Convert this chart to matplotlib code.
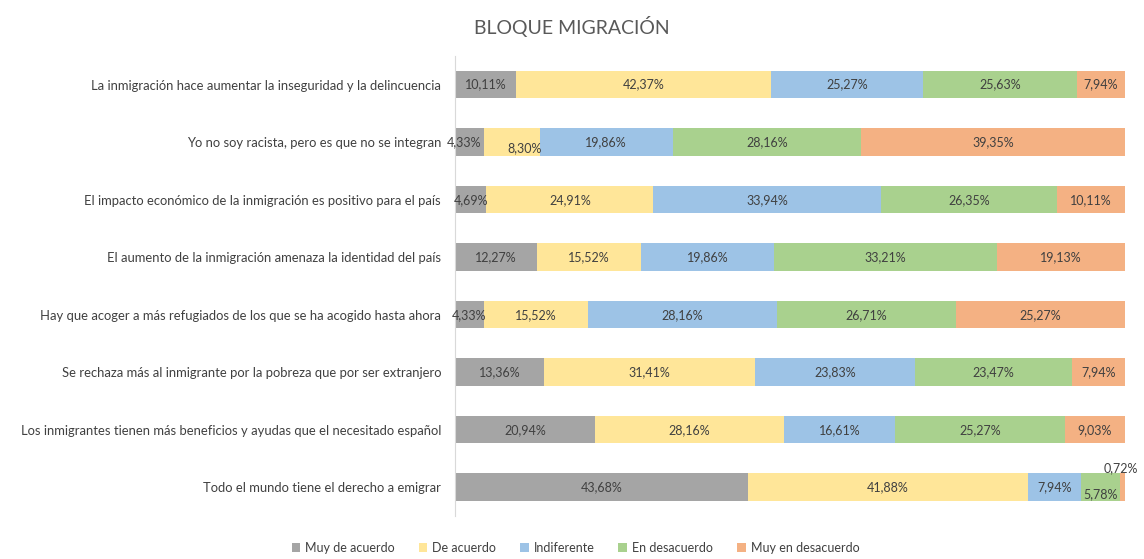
import numpy as np
import matplotlib
matplotlib.use('Agg')
import matplotlib.pyplot as plt
from matplotlib.patches import Patch

plt.rcParams['font.family'] = ['Lato', 'DejaVu Sans']

TITLE = 'BLOQUE MIGRACIÓN'

items = [
    'La inmigración hace aumentar la inseguridad y la delincuencia',
    'Yo no soy racista, pero es que no se integran',
    'El impacto económico de la inmigración es positivo para el país',
    'El aumento de la inmigración amenaza la identidad del país',
    'Hay que acoger a más refugiados de los que se ha acogido hasta ahora',
    'Se rechaza más al inmigrante por la pobreza que por ser extranjero',
    'Los inmigrantes tienen más beneficios y ayudas que el necesitado español',
    'Todo el mundo tiene el derecho a emigrar',
]

series = ['Muy de acuerdo', 'De acuerdo', 'Indiferente', 'En desacuerdo', 'Muy en desacuerdo']

muy_de_acuerdo = [10.11, 4.33, 4.69, 12.27, 4.33, 13.36, 20.94, 43.68]
de_acuerdo = [42.37, 8.30, 24.91, 15.52, 15.52, 31.41, 28.16, 41.88]
indiferente = [25.27, 19.86, 33.94, 19.86, 28.16, 23.83, 16.61, 7.94]
en_desacuerdo = [25.63, 28.16, 26.35, 33.21, 26.71, 23.47, 25.27, 5.78]
muy_en_desacuerdo = [7.94, 39.35, 10.11, 19.13, 25.27, 7.94, 9.03, 0.72]

colors = ['#A5A5A5', '#FFE699', '#9DC3E6', '#A9D18E', '#F4B183']
txt_color = '#404040'

# manual label nudges (points), like the hand-moved labels in the original
nudges = {
    (1, 0): (-4, 0),
    (1, 1): (9, -4),
    (7, 3): (0, -5),
    (7, 4): (-1, 14),
}

vals = np.array([muy_de_acuerdo, de_acuerdo, indiferente, en_desacuerdo, muy_en_desacuerdo])
shares = vals / vals.sum(axis=0)  # 100% stacked, each row normalised

fig = plt.figure(figsize=(11.44, 5.59), dpi=100)
ax = fig.add_axes([0.3977, 0.077, 0.5857, 0.823])

y = np.arange(len(items))
left = np.zeros(len(items))
for k in range(len(series)):
    ax.barh(y, shares[k], left=left, height=0.48, color=colors[k], edgecolor='none')
    for i in range(len(items)):
        dx, dy = nudges.get((i, k), (0, 0))
        lab = ('%.2f%%' % vals[k, i]).replace('.', ',')
        ax.annotate(lab, (left[i] + shares[k, i] / 2, y[i]), xytext=(dx, dy),
                    textcoords='offset points', ha='center', va='center',
                    fontsize=9, color=txt_color)
    left += shares[k]

ax.set_xlim(0, 1)
ax.set_ylim(len(items) - 0.5, -0.5)
ax.set_yticks(y)
ax.set_yticklabels(items, fontsize=9.4, color=txt_color)
ax.tick_params(axis='y', length=0, pad=10)
ax.set_xticks([])
for s in ['top', 'right', 'bottom']:
    ax.spines[s].set_visible(False)
ax.spines['left'].set_color('#D9D9D9')

fig.text(0.5, 0.952, TITLE, ha='center', va='center', fontsize=14, color='#595959')

handles = [Patch(facecolor=c, edgecolor='none') for c in colors]
fig.legend(handles, series, loc='center', bbox_to_anchor=(0.503, 0.02), ncol=5,
           frameon=False, fontsize=9, handlelength=0.7, handleheight=0.7,
           handletextpad=0.4, columnspacing=1.9, labelcolor=txt_color)

fig.savefig('out.png', dpi=100)
